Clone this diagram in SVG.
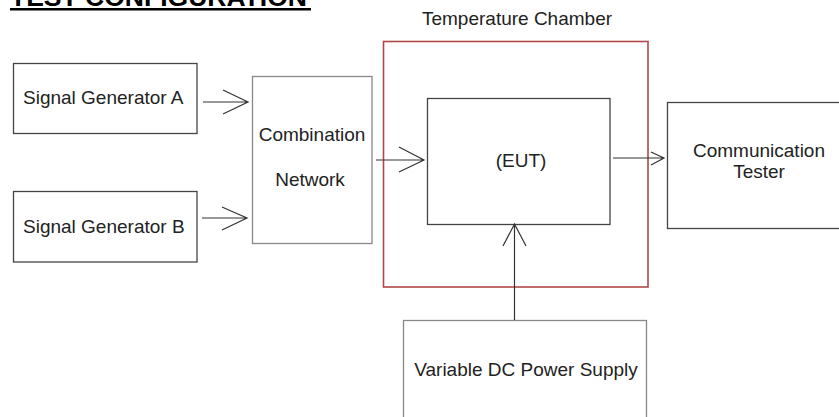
<svg xmlns="http://www.w3.org/2000/svg" width="839" height="417" viewBox="0 0 839 417">
<style>
text{font-family:"Liberation Sans",Arial,sans-serif;font-size:19px;fill:#222}
.box{fill:#fff;stroke:#444;stroke-width:1.3}
.lt{stroke:#888}
.ln{fill:none;stroke:#333;stroke-width:1.2}
</style>
<rect width="839" height="417" fill="#fff"/>
<g id="title">
<text x="10" y="6" style="font-size:26.5px;font-weight:bold;fill:#000">TEST CONFIGURATION</text>
<rect x="10" y="8" width="301" height="2.5" fill="#000"/>
</g>
<g id="chamber">
<rect x="383.5" y="41.5" width="264.5" height="245.5" fill="none" stroke="#b04848" stroke-width="1.6"/>
<text x="517" y="25" text-anchor="middle">Temperature Chamber</text>
</g>
<g id="genA">
<rect class="box" x="13.5" y="63.5" width="183.5" height="70"/>
<text x="23" y="104">Signal Generator A</text>
</g>
<g id="genB">
<rect class="box" x="13.5" y="191.5" width="183.5" height="70.5"/>
<text x="23" y="233">Signal Generator B</text>
</g>
<g id="comb">
<rect class="box lt" x="252.5" y="76.5" width="119.5" height="167"/>
<text x="312" y="141" text-anchor="middle">Combination</text>
<text x="310" y="186" text-anchor="middle">Network</text>
</g>
<g id="eut">
<rect class="box" x="427.5" y="98.5" width="182.5" height="126"/>
<text x="521" y="167" text-anchor="middle">(EUT)</text>
</g>
<g id="tester">
<rect class="box" x="667.5" y="102.5" width="180" height="126"/>
<text x="759" y="157" text-anchor="middle">Communication</text>
<text x="759" y="178" text-anchor="middle">Tester</text>
</g>
<g id="power">
<rect class="box lt" x="403.5" y="320.5" width="243" height="110"/>
<text x="526" y="376" text-anchor="middle">Variable DC Power Supply</text>
</g>
<g id="connectors">
<path class="ln" d="M203 102H248M223 90L248 102L223 114"/>
<path class="ln" d="M202 218H247M222 207L247 218L222 230"/>
<path class="ln" d="M376 160H424M399 147L424 160L399 172"/>
<path class="ln" d="M613 158H664M651 152L664 158L651 165"/>
<path class="ln" d="M514.5 320V224M503 246L514.5 224L526 246"/>
</g>
</svg>
